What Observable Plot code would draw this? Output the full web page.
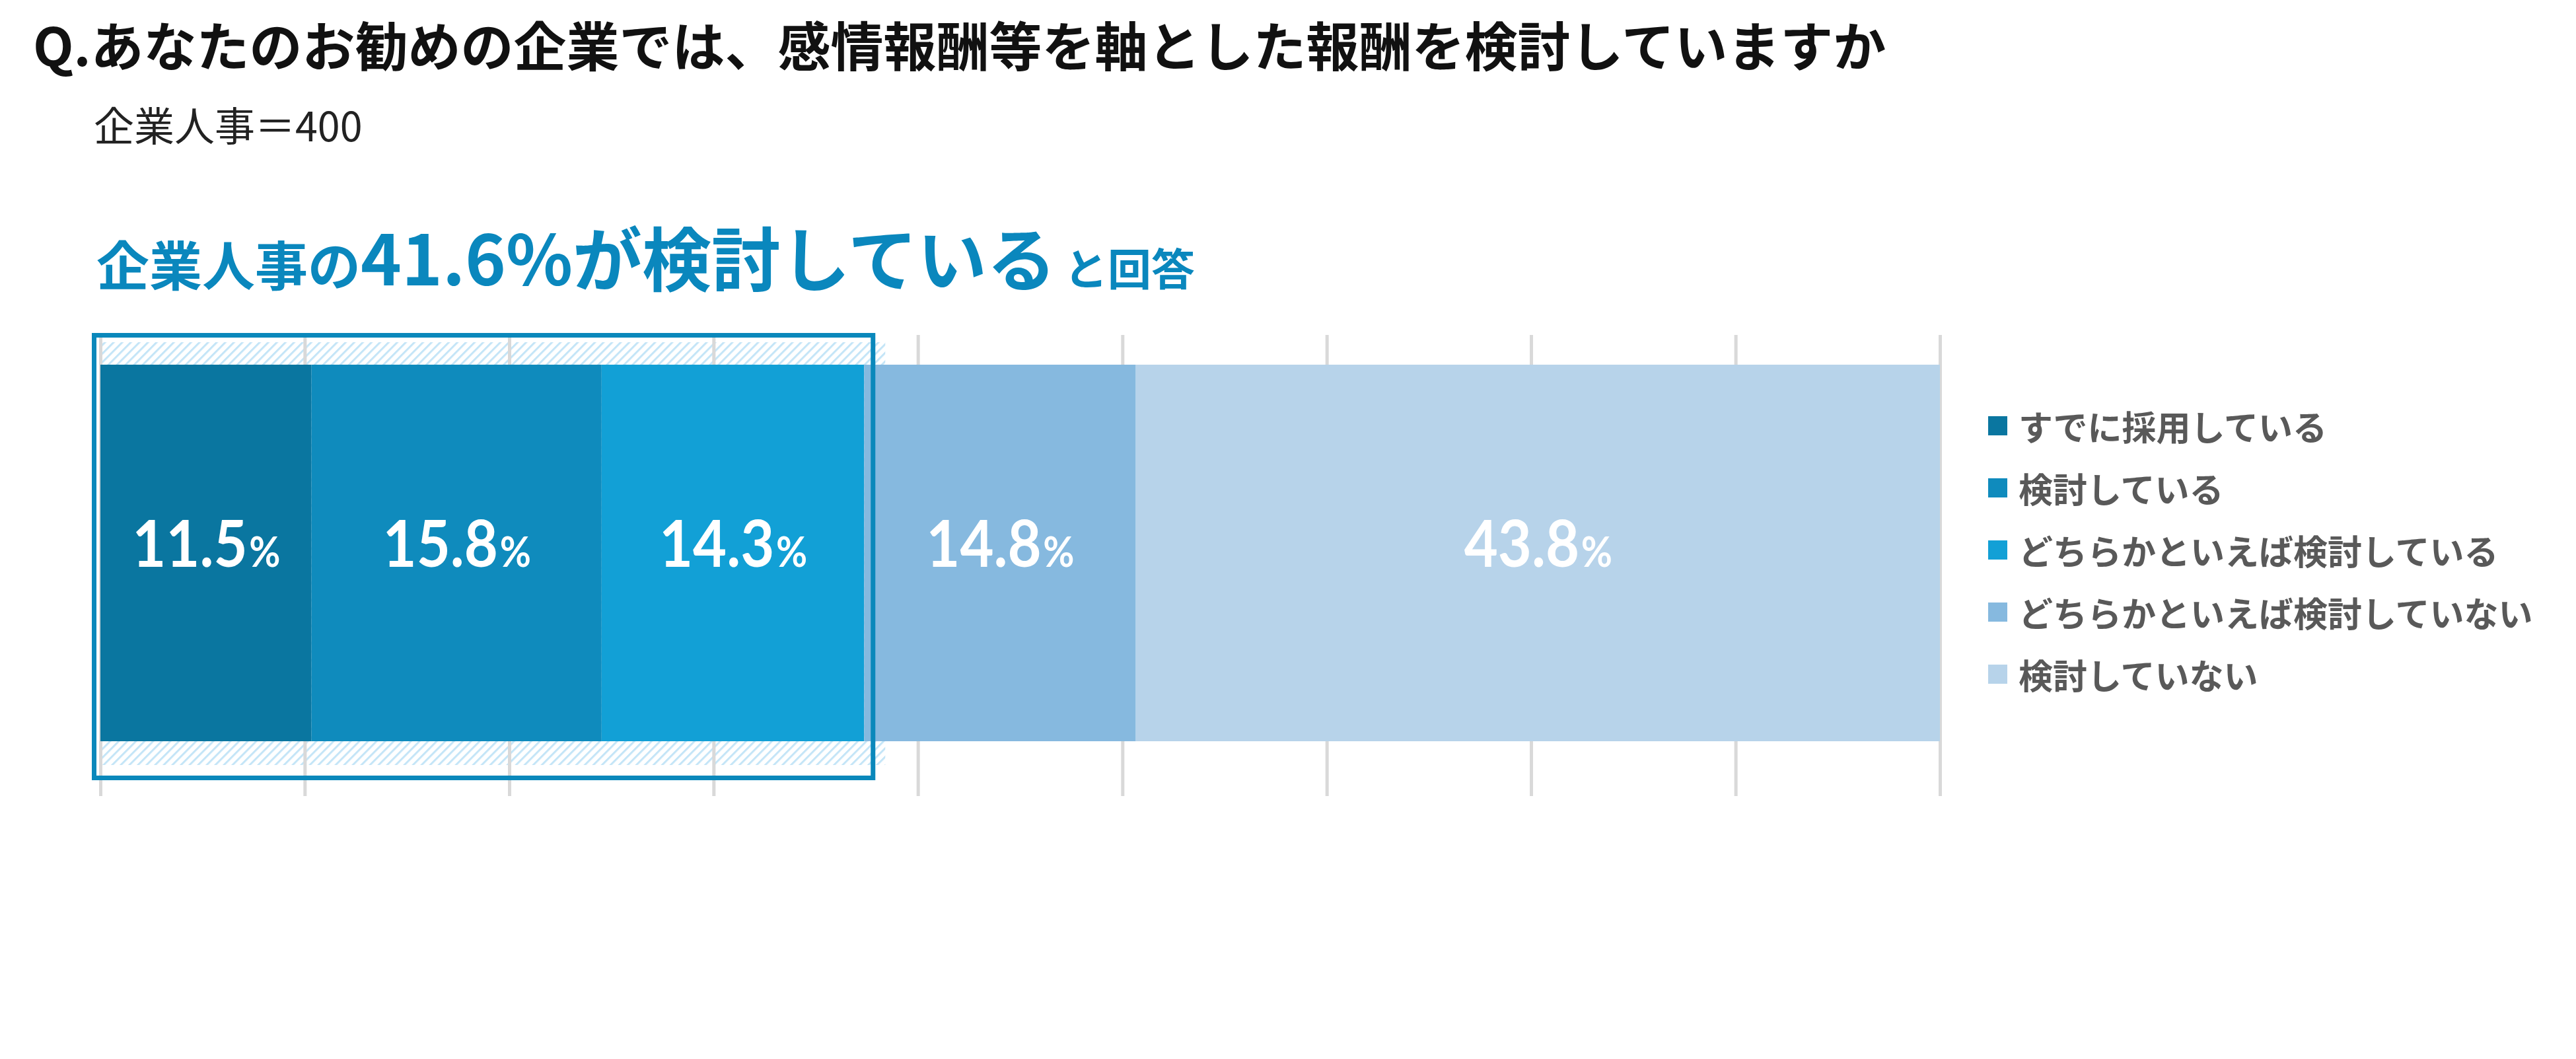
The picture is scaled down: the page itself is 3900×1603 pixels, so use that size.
<!DOCTYPE html>
<html lang="ja">
<head>
<meta charset="utf-8">
<script src="https://cdn.jsdelivr.net/npm/d3@7"></script>
<script src="https://cdn.jsdelivr.net/npm/@observablehq/plot@0.6"></script>
<style>
  html, body { margin: 0; padding: 0; background: #ffffff; }
  body { width: 3900px; height: 1603px; position: relative; overflow: hidden;
         font-family: "Noto Sans CJK JP", "Noto Sans", sans-serif; }
  #title { position: absolute; left: 50px; top: 25px; font-size: 80px; font-weight: 700;
           color: #111; line-height: 1; white-space: nowrap; }
  #subtitle { position: absolute; left: 142px; top: 157px; font-size: 61px; font-weight: 400;
              color: #222; line-height: 1; white-space: nowrap; }
  #headline { position: absolute; left: 146px; top: 334px; color: #0a87bd; font-weight: 700;
              line-height: 1; white-space: nowrap; }
  #headline .s1 { font-size: 80px; }
  #headline .s2 { font-size: 105px; }
  #headline .s3 { font-size: 66px; margin-left: 12px; }
  #chart { position: absolute; left: 0; top: 480px; }
  #legend { position: absolute; left: 3010px; top: 597px; width: 870px; }
  #legend .lg-swatch { height: 94px; padding: 0 !important; margin: 0 !important;
                       display: flex; align-items: center; }
  #legend .lg-swatch svg { margin-right: 17px !important; flex-shrink: 0; }
</style>
</head>
<body>
<div id="title"></div>
<div id="subtitle"></div>
<div id="headline"></div>
<div id="chart"></div>
<div id="legend"></div>
<script>
// ---- data ----
const titleText = "Q.あなたのお勧めの企業では、感情報酬等を軸とした報酬を検討していますか";
const subtitleText = "企業人事＝400";
const headlineParts = ["企業人事の", "41.6%が検討している", "と回答"];
const group = "企業人事";
const categories = [
  "すでに採用している",
  "検討している",
  "どちらかといえば検討している",
  "どちらかといえば検討していない",
  "検討していない"
];
const values = [11.5, 15.8, 14.3, 14.8, 43.8];
const colors = ["#0a76a0", "#0f8bbd", "#12a0d6", "#86b9df", "#b7d3ea"];
const gridTicks = [0, 11.13, 22.27, 33.4, 44.53, 55.67, 66.8, 77.93, 89.07, 100.2];
const highlightCount = 3; // first three answers are "検討している" side

// ---- build ----
document.getElementById("title").textContent = titleText;
document.getElementById("subtitle").textContent = subtitleText;
const hl = document.getElementById("headline");
headlineParts.forEach((t, i) => {
  const s = document.createElement("span");
  s.className = "s" + (i + 1);
  s.textContent = t;
  hl.appendChild(s);
});

const data = categories.map((c, i) => ({group, category: c, value: values[i]}));
const total = d3.sum(values);
const highlightTotal = d3.sum(values.slice(0, highlightCount));
const highlight = [{group, x1: 0, x2: highlightTotal}];

const chart = Plot.plot({
  width: 2990,
  height: 760,
  marginLeft: 152,
  marginRight: 53,
  marginTop: 27,
  marginBottom: 35,
  style: {background: "transparent", overflow: "visible"},
  x: {domain: [0, total], axis: null},
  y: {domain: [group], range: [72, 642], padding: 0, axis: null},
  color: {domain: categories, range: colors},
  marks: [
    Plot.barX(highlight, {x1: "x1", x2: "x2", y: "group", fill: "url(#hatch)",
      insetLeft: 0, insetRight: -32, insetTop: -34, insetBottom: -36}),
    Plot.ruleX(gridTicks, {stroke: "#d9d9d9", strokeWidth: 5}),
    Plot.barX(data, Plot.stackX({x: "value", y: "group", fill: "category", order: null})),
    Plot.text(data, Plot.stackX({x: "value", y: "group", order: null,
      text: d => d.value.toFixed(1) + "%", fill: "white",
      fontFamily: "Lato", fontWeight: 700, fontSize: 98, dy: -11,
      textAnchor: "middle", lineAnchor: "middle"})),
    Plot.barX(highlight, {x1: "x1", x2: "x2", y: "group", fill: "none",
      stroke: "#0a88bb", strokeWidth: 7,
      insetLeft: -9.5, insetRight: -13.5, insetTop: -44.5, insetBottom: -55.5})
  ]
});

// hatch pattern definition
const ns = "http://www.w3.org/2000/svg";
const defs = document.createElementNS(ns, "defs");
defs.innerHTML = '<pattern id="hatch" patternUnits="userSpaceOnUse" width="9.2" height="9.2" patternTransform="rotate(45)">' +
  '<rect x="0" y="0" width="3" height="9.2" fill="#c4e5f7"></rect></pattern>';
chart.insertBefore(defs, chart.firstChild);

// smaller % and condensed numerals
d3.select(chart).selectAll('g[aria-label="text"] text').each(function () {
  const t = this.textContent;
  if (!t.includes("%")) return;
  this.textContent = t.replace("%", "");
  const ts = document.createElementNS(ns, "tspan");
  ts.textContent = "%";
  ts.setAttribute("font-size", "64");
  ts.setAttribute("dx", "3");
  this.appendChild(ts);
  const tr = this.getAttribute("transform");
  if (tr) {
    this.setAttribute("transform", tr + " scale(0.9,1)");
  } else {
    const x = +this.getAttribute("x") || 0, y = +this.getAttribute("y") || 0;
    this.removeAttribute("x"); this.removeAttribute("y");
    this.setAttribute("transform", `translate(${x},${y}) scale(0.9,1)`);
  }
});
document.getElementById("chart").appendChild(chart);

const legend = Plot.legend({
  color: {domain: categories, range: colors},
  legend: "swatches",
  columns: 1,
  swatchSize: 29,
  className: "lg",
  style: {fontSize: "52px", fontWeight: 700, color: "#595959",
          fontFamily: '"Noto Sans CJK JP", sans-serif', background: "transparent"}
});
document.getElementById("legend").appendChild(legend);
</script>
</body>
</html>
